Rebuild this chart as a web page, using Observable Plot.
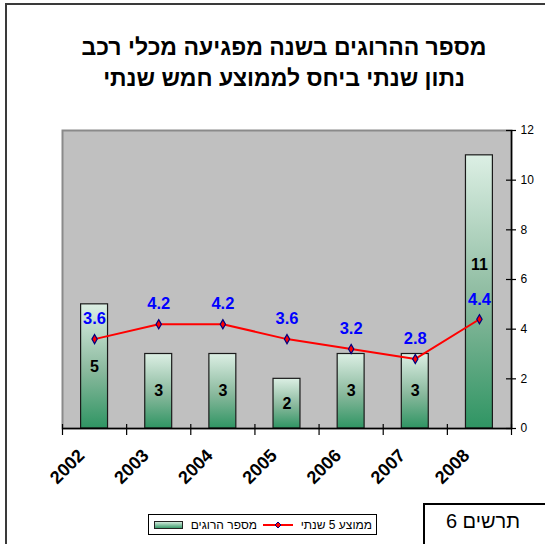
<!DOCTYPE html>
<html>
<head>
<meta charset="utf-8">
<script src="https://cdn.jsdelivr.net/npm/d3@7"></script>
<script src="https://cdn.jsdelivr.net/npm/@observablehq/plot@0.6"></script>
<style>
  html, body { margin: 0; padding: 0; background: #fff; }
  #root { position: relative; width: 545px; height: 544px; overflow: hidden; font-family: "Liberation Sans", Arial, sans-serif; }
  #frame { position: absolute; left: 5px; top: 3px; width: 620px; height: 620px; border: 2px solid #3a3a3a; box-sizing: border-box; }
  #title { position: absolute; left: 0; top: 32px; width: 568px; text-align: center; font-weight: bold; font-size: 23px; line-height: 31px; color: #000; }
  #chart { position: absolute; left: 0; top: 118px; }
  #legend { position: absolute; left: 148px; top: 514px; width: 229px; height: 21px; border: 1px solid #000; box-sizing: border-box; background: #fff; font-size: 12px; }
  .lg { position: absolute; top: 3px; white-space: nowrap; }
  #fig { position: absolute; left: 423px; top: 503px; width: 200px; height: 100px; border: 2px solid #000; box-sizing: border-box; }
  #figtext { position: absolute; left: 423px; top: 510px; width: 120px; text-align: center; font-size: 20px; }
</style>
</head>
<body>
<div id="root">
  <div id="frame"></div>
  <div id="title" dir="rtl">מספר ההרוגים בשנה מפגיעה מכלי רכב<br>נתון שנתי ביחס לממוצע חמש שנתי</div>
  <div id="chart"></div>
  <div id="legend" dir="rtl">
    <span class="lg" style="right:4px">ממוצע 5 שנתי</span>
    <svg style="position:absolute;left:114px;top:4px" width="30" height="12">
      <line x1="0" y1="6" x2="30" y2="6" stroke="#ff0000" stroke-width="2"></line>
      <path d="M15,3 L18,6 L15,9 L12,6 Z" fill="#ff0000" stroke="#000080" stroke-width="1"></path>
    </svg>
    <span class="lg" style="right:119px">מספר הרוגים</span>
    <svg style="position:absolute;left:5px;top:6px" width="30" height="9">
      <defs><linearGradient id="lgGrad" x1="0" y1="0" x2="0" y2="1"><stop offset="0%" stop-color="#dcefe4"></stop><stop offset="100%" stop-color="#2f9563"></stop></linearGradient></defs>
      <rect x="0.5" y="0.5" width="28" height="7" fill="url(#lgGrad)" stroke="#222"></rect>
    </svg>
  </div>
  <div id="fig"></div>
  <div id="figtext" dir="rtl">תרשים 6</div>
</div>
<script>
const years = [2002, 2003, 2004, 2005, 2006, 2007, 2008];
const killed = [5, 3, 3, 2, 3, 3, 11];
const avg5 = [3.6, 4.2, 4.2, 3.6, 3.2, 2.8, 4.4];
const yTicks = [0, 2, 4, 6, 8, 10, 12];

const data = years.map((year, i) => ({year, killed: killed[i], avg: avg5[i]}));
const bounds = [years[0] - 0.5, ...years.map(y => y + 0.5)];

const W = 545, H = 382, mT = 12, mB = 72, mL = 62, mR = 34;
const plotH = H - mT - mB, plotW = W - mL - mR;

const chart = Plot.plot({
  width: W, height: H,
  marginTop: mT, marginBottom: mB, marginLeft: mL, marginRight: mR,
  style: {fontFamily: "'Liberation Sans', Arial, sans-serif", background: "transparent", overflow: "visible"},
  x: {domain: [years[0] - 0.5, years[years.length - 1] + 0.5], axis: null},
  y: {domain: [0, 12], axis: null},
  marks: [
    Plot.frame({fill: "#c0c0c0", stroke: "#8a8a8a", strokeWidth: 2}),
    Plot.rectY(data, {x1: d => d.year - 0.21, x2: d => d.year + 0.21, y: "killed", fill: "url(#barGrad)", stroke: "#1a1a1a", strokeWidth: 1.2}),
    Plot.text(data, {x: "year", y: d => d.year === 2008 ? 6.6 : d.killed / 2, text: d => String(d.killed), fontSize: 16, fontWeight: "bold", fill: "#000"}),
    Plot.line(data, {x: "year", y: "avg", stroke: "#ff0000", strokeWidth: 2}),
    Plot.dot(data, {x: "year", y: "avg", symbol: "diamond", r: 2.8, fill: "#ff0000", stroke: "#000080", strokeWidth: 1.2}),
    Plot.text(data, {x: "year", y: "avg", text: d => d.avg.toFixed(1), dy: -20, fontSize: 16.5, fontWeight: "bold", fill: "#0000ff"}),
    Plot.ruleY([0], {stroke: "#000", strokeWidth: 1.5}),
    Plot.ruleX([bounds[bounds.length - 1]], {stroke: "#000", strokeWidth: 1.5}),
    Plot.ruleX(bounds, {stroke: "#000", strokeWidth: 1.2, insetTop: plotH - 4, insetBottom: -7}),
    Plot.ruleY(yTicks, {stroke: "#000", strokeWidth: 1.2, insetLeft: plotW - 5, insetRight: -5}),
    Plot.axisY({anchor: "right", ticks: yTicks, tickSize: 0, tickPadding: 9, fontSize: 12, label: null}),
    Plot.text(years, {x: d => d, frameAnchor: "bottom", dy: 24, dx: -13, rotate: -45, textAnchor: "end", lineAnchor: "middle", text: d => String(d), fontSize: 18, fontWeight: "bold", fill: "#000"})
  ]
});

const defs = d3.select(chart).insert("defs", ":first-child");
const grad = defs.append("linearGradient").attr("id", "barGrad").attr("x1", 0).attr("y1", 0).attr("x2", 0).attr("y2", 1);
grad.append("stop").attr("offset", "0%").attr("stop-color", "#dcefe4");
grad.append("stop").attr("offset", "55%").attr("stop-color", "#88b89c");
grad.append("stop").attr("offset", "100%").attr("stop-color", "#2f9563");

document.getElementById("chart").appendChild(chart);
</script>
</body>
</html>
